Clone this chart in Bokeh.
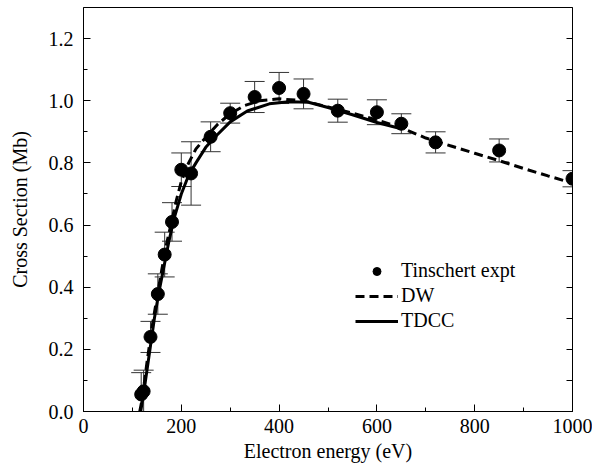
from bokeh.plotting import figure
from bokeh.models import (ColumnDataSource, Whisker, TeeHead, Range1d, LinearAxis,
                          Legend, LegendItem, FixedTicker)
from bokeh.embed import file_html
from bokeh.resources import INLINE

# Experimental data (Tinschert)
expt_e = [118, 123, 137, 152, 166, 181, 200, 220, 260, 300, 350, 400, 450, 520, 600, 650, 720, 850, 1000]
expt_cs = [0.055, 0.065, 0.240, 0.378, 0.505, 0.610, 0.778, 0.766, 0.884, 0.960, 1.012, 1.041,
           1.022, 0.968, 0.963, 0.926, 0.866, 0.840, 0.749]
expt_err = [0.070, 0.068, 0.050, 0.065, 0.072, 0.062, 0.054, 0.102, 0.048, 0.032, 0.050, 0.050,
            0.048, 0.037, 0.040, 0.032, 0.034, 0.037, 0.026]

# DW theory
dw_e = [115, 120, 125, 130, 140, 150, 160, 170, 180, 190, 200, 215, 230, 250, 275, 300, 330, 360,
        400, 450, 500, 550, 600, 650, 700, 750, 800, 850, 900, 950, 1000]
dw_cs = [0.0, 0.04, 0.10, 0.16, 0.27, 0.365, 0.455, 0.54, 0.61, 0.68, 0.74, 0.80, 0.845, 0.882,
         0.925, 0.958, 0.985, 1.0, 1.006, 1.0, 0.98, 0.96, 0.938, 0.913, 0.88, 0.855, 0.831,
         0.807, 0.782, 0.758, 0.735]

# TDCC theory
tdcc_e = [117, 125, 135, 145, 155, 165, 175, 185, 200, 215, 230, 250, 270, 300, 335, 380, 420,
          460, 500, 550, 600, 650]
tdcc_cs = [0.0, 0.08, 0.19, 0.30, 0.39, 0.47, 0.55, 0.62, 0.70, 0.76, 0.80, 0.85, 0.885, 0.932,
           0.967, 0.99, 0.997, 0.995, 0.978, 0.955, 0.93, 0.91]

x_ticks = [0, 200, 400, 600, 800, 1000]
x_minor = [100, 300, 500, 700, 900]
y_ticks = [0.0, 0.2, 0.4, 0.6, 0.8, 1.0, 1.2]
y_minor = [0.1, 0.3, 0.5, 0.7, 0.9, 1.1]

FONT = "Liberation Serif"

p = figure(width=592, height=472, output_backend="svg", toolbar_location=None,
           x_range=Range1d(0, 1000), y_range=Range1d(0, 1.3),
           min_border_left=83, min_border_right=20, min_border_top=7, min_border_bottom=61)
p.grid.visible = False
p.outline_line_color = "black"
p.outline_line_width = 1
p.background_fill_color = "white"
p.border_fill_color = "white"

src = ColumnDataSource(dict(x=expt_e, y=expt_cs,
                            upper=[v + e for v, e in zip(expt_cs, expt_err)],
                            lower=[v - e for v, e in zip(expt_cs, expt_err)]))

dw = p.line(dw_e, dw_cs, line_color="black", line_width=3, line_dash="9 5")
tdcc = p.line(tdcc_e, tdcc_cs, line_color="black", line_width=3)

wh = Whisker(base="x", upper="upper", lower="lower", source=src, line_color="#333333", line_width=1,
             upper_head=TeeHead(size=20, line_color="#333333", line_width=1),
             lower_head=TeeHead(size=20, line_color="#333333", line_width=1))
p.add_layout(wh)
pts = p.scatter("x", "y", source=src, size=13, fill_color="black", line_color="black")
leg_line = p.line(x=[], y=[], line_color="black", line_width=1)

# Axes styling
for ax in (p.xaxis[0], p.yaxis[0]):
    ax.axis_line_color = "black"
    ax.major_tick_line_color = "black"
    ax.minor_tick_line_color = "black"
    ax.major_tick_in = 7
    ax.major_tick_out = 0
    ax.minor_tick_in = 4
    ax.minor_tick_out = 0
    ax.major_label_text_font = FONT
    ax.major_label_text_font_size = "20px"
    ax.major_label_text_color = "black"
    ax.axis_label_text_font = FONT
    ax.axis_label_text_font_size = "20px"
    ax.axis_label_text_font_style = "normal"
    ax.axis_label_text_color = "black"

p.xaxis.ticker = FixedTicker(ticks=x_ticks, minor_ticks=x_minor)
p.yaxis.ticker = FixedTicker(ticks=y_ticks, minor_ticks=y_minor)
p.xaxis.major_label_overrides = {t: str(t) for t in x_ticks}
p.yaxis.major_label_overrides = {t: f"{t:.1f}" for t in y_ticks}
p.xaxis.axis_label = "Electron energy (eV)"
p.yaxis.axis_label = "Cross Section (Mb)"
p.xaxis.major_label_standoff = 7
p.xaxis.axis_label_standoff = 4
p.yaxis.major_label_standoff = 10
p.yaxis.axis_label_standoff = 15

# Right-hand axis: ticks only, no labels
right = LinearAxis(ticker=FixedTicker(ticks=y_ticks, minor_ticks=y_minor),
                   major_tick_in=6, major_tick_out=0, minor_tick_in=6, minor_tick_out=0,
                   major_label_text_alpha=0, major_label_text_font_size="10px",
                   axis_line_color="black", major_tick_line_color="black",
                   minor_tick_line_color="black", major_label_standoff=0)
right.major_label_overrides = {t: " " for t in y_ticks}
p.add_layout(right, "right")

legend = Legend(items=[
    LegendItem(label="Tinschert expt", renderers=[leg_line, pts]),
    LegendItem(label="DW", renderers=[dw]),
    LegendItem(label="TDCC", renderers=[tdcc]),
], location=(272, 79), label_text_font=FONT, label_text_font_size="20px",
   label_text_color="black",
   glyph_width=43, glyph_height=20, label_height=20, spacing=2, padding=0, margin=0,
   label_standoff=3, border_line_color=None, background_fill_alpha=0)
p.add_layout(legend)

open("out.html", "w").write(file_html(p, INLINE))
